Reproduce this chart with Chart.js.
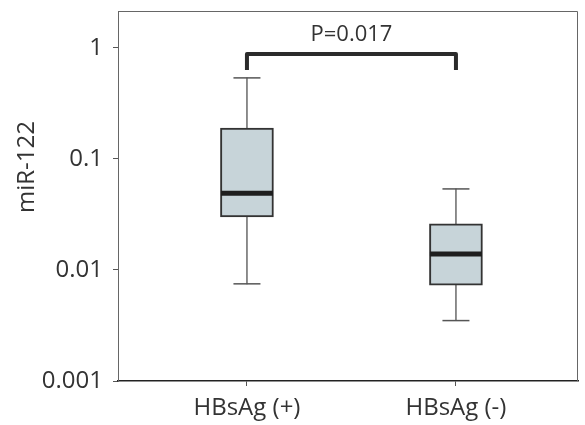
<!DOCTYPE html>
<html>
<head>
<meta charset="utf-8">
<script src="https://cdn.jsdelivr.net/npm/chart.js@4.4.1/dist/chart.umd.min.js"></script>
<style>
  html, body { margin: 0; padding: 0; background: #fff; }
  #wrap { width: 585px; height: 425px; }
</style>
</head>
<body>
<div id="wrap"><canvas id="myChart"></canvas></div>
<script>
// data
const groups = ['HBsAg (+)', 'HBsAg (-)'];
const groupPos = [1, 2];
const whiskerMin = [0.0075, 0.0035];
const q1 = [0.030, 0.0073];
const median = [0.049, 0.0139];
const q3 = [0.190, 0.026];
const whiskerMax = [0.537, 0.0537];
const yTicks = [0.001, 0.01, 0.1, 1];
const pText = 'P=0.017';
const bracketTop = 0.88;
const bracketEnd = 0.634;
const pTextValue = 1.31;

const ctx = document.getElementById('myChart');
const fontFam = "'Open Sans', sans-serif";
const textCol = '#333';

// bracket, p value, frame and y title
const extras = {
  id: 'extras',
  afterDraw(chart) {
    const c = chart.ctx;
    const xs = chart.scales.x;
    const ys = chart.scales.y;
    const a = chart.chartArea;
    c.save();
    // frame (top + right)
    c.strokeStyle = '#666';
    c.lineWidth = 1;
    c.beginPath();
    c.moveTo(a.left, a.top + 0.5);
    c.lineTo(a.right - 0.5, a.top + 0.5);
    c.lineTo(a.right - 0.5, a.bottom);
    c.stroke();

    // bracket
    let x1 = xs.getPixelForValue(groupPos[0]);
    let x2 = xs.getPixelForValue(groupPos[1]);
    let yt = ys.getPixelForValue(bracketTop);
    let ye = ys.getPixelForValue(bracketEnd);
    c.strokeStyle = '#2b2b2b';
    c.lineWidth = 4;
    c.lineJoin = 'round';
    c.beginPath();
    c.moveTo(x1, ye);
    c.lineTo(x1, yt);
    c.lineTo(x2, yt);
    c.lineTo(x2, ye);
    c.stroke();

    // p value
    c.fillStyle = textCol;
    c.font = '22px ' + fontFam;
    c.textAlign = 'center';
    c.textBaseline = 'middle';
    c.fillText(pText, (x1 + x2) / 2, ys.getPixelForValue(pTextValue));

    // y title
    c.translate(27, 167);
    c.rotate(-Math.PI / 2);
    c.font = '24px ' + fontFam;
    c.fillText('miR-122', 0, 0);
    c.restore();
  }
};

new Chart(ctx, {
  type: 'bar',
  data: {
    datasets: [
      {
        label: 'whisker',
        data: groupPos.map((p, i) => ({ x: p, y: [whiskerMin[i], whiskerMax[i]] })),
        backgroundColor: '#777',
        barThickness: 1,
        grouped: false,
        order: 4
      },
      {
        label: 'box',
        data: groupPos.map((p, i) => ({ x: p, y: [q1[i], q3[i]] })),
        backgroundColor: '#c7d4d9',
        borderColor: '#333',
        borderWidth: 2,
        borderSkipped: false,
        barThickness: 53,
        grouped: false,
        order: 3
      },
      {
        type: 'scatter',
        label: 'caps',
        data: groupPos.flatMap((p, i) => [{ x: p, y: whiskerMin[i] }, { x: p, y: whiskerMax[i] }]),
        pointStyle: 'line',
        pointRadius: 13.5,
        borderWidth: 1.5,
        borderColor: '#555',
        order: 2
      },
      {
        type: 'scatter',
        label: 'median',
        data: groupPos.map((p, i) => ({ x: p, y: median[i] })),
        pointStyle: 'line',
        pointRadius: 26,
        borderWidth: 5,
        borderColor: '#1e1e1e',
        order: 1
      }
    ]
  },
  options: {
    responsive: true,
    maintainAspectRatio: false,
    animation: false,
    layout: { autoPadding: false, padding: { top: 11, right: 7, left: 0, bottom: 0 } },
    plugins: {
      legend: { display: false },
      tooltip: { enabled: false }
    },
    scales: {
      x: {
        type: 'linear',
        min: 0.383,
        max: 2.584,
        offset: false,
        afterBuildTicks: (s) => { s.ticks = groupPos.map(v => ({ value: v })); },
        afterFit: (s) => { s.height = 44; s.paddingLeft = 0; s.paddingRight = 0; },
        ticks: {
          callback: (v) => groups[groupPos.indexOf(v)],
          color: textCol,
          font: { family: fontFam, size: 24 },
          padding: 8,
          maxRotation: 0,
          autoSkip: false
        },
        grid: { drawOnChartArea: false, drawTicks: true, tickLength: 5, color: '#555', offset: false },
        border: { display: true, color: '#222', width: 1.5 }
      },
      y: {
        type: 'logarithmic',
        min: 0.001,
        max: 2.15,
        afterBuildTicks: (s) => { s.ticks = yTicks.map(v => ({ value: v })); },
        afterFit: (s) => { s.width = 118; s.paddingTop = 0; s.paddingBottom = 0; },
        ticks: {
          callback: (v) => String(v),
          color: textCol,
          font: { family: fontFam, size: 24 },
          padding: 10
        },
        grid: { drawOnChartArea: false, drawTicks: true, tickLength: 5, color: '#555' },
        border: { display: true, color: '#666', width: 1 }
      }
    }
  },
  plugins: [extras]
});
</script>
</body>
</html>
